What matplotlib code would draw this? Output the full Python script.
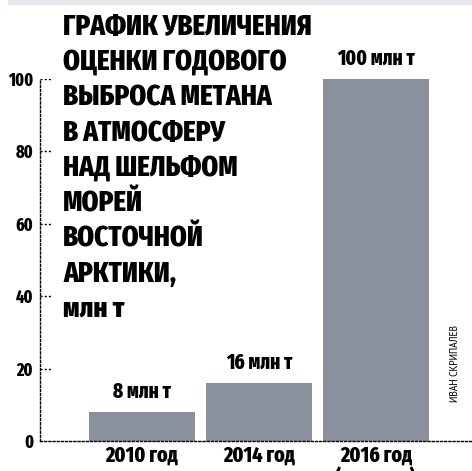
import matplotlib.pyplot as plt
from matplotlib.patches import Rectangle

# data
years = ["2010 год", "2014 год", "2016 год\n(прогноз)"]
emissions = [8, 16, 100]
value_labels = ["8 млн т", "16 млн т", "100 млн т"]
yticks = [0, 20, 40, 60, 80, 100]
title_lines = ["ГРАФИК УВЕЛИЧЕНИЯ", "ОЦЕНКИ ГОДОВОГО", "ВЫБРОСА МЕТАНА",
               "В АТМОСФЕРУ", "НАД ШЕЛЬФОМ", "МОРЕЙ", "ВОСТОЧНОЙ",
               "АРКТИКИ,", "млн т"]

W, H = 472, 471
narrow = ["Fira Sans Extra Condensed", "PT Sans Narrow", "DejaVu Sans"]
bar_color = "#8a909e"
dots = (0, (1.5, 1.5))

fig = plt.figure(figsize=(W / 100, H / 100), dpi=100)
fig.patches.append(Rectangle((8 / W, 1 - 4 / H), 1, 4 / H, transform=fig.transFigure,
                             color="#e4e7ee", zorder=0))

# axes: y-axis at x=40px, zero at y=441px, 100 at y=79px
ax = fig.add_axes([40 / W, 30 / H, 1 - 40 / W, (441 - 79) / H])
step = 117.0  # px per bar slot
ax.set_xlim(-(142 - 40) / step, (W - 142) / step)
ax.set_ylim(0, 100)

x = range(len(emissions))
ax.bar(x, emissions, width=106 / step, color=bar_color, zorder=2)

for xi, v, lab in zip(x, emissions, value_labels):
    ax.annotate(lab, (xi, v), xytext=(0, 7), textcoords="offset points",
                ha="center", va="bottom", fontsize=15, fontweight=800,
                family=narrow, annotation_clip=False)

for s in ["top", "right"]:
    ax.spines[s].set_visible(False)
for s in ["left", "bottom"]:
    ax.spines[s].set_linestyle(dots)
    ax.spines[s].set_linewidth(1)

# short dashed tick marks
x0 = ax.get_xlim()[0]
ax.hlines(yticks[1:], x0, x0 + 12 / step, colors="black", linestyles=dots, linewidth=1)

ax.set_yticks(yticks)
ax.set_yticklabels([str(t) for t in yticks], fontsize=12.5, fontweight=800, family=narrow)
ax.set_xticks(list(x))
ax.set_xticklabels(years, fontsize=15.5, fontweight=800, family=narrow, linespacing=1.0)
ax.tick_params(axis="y", length=0, pad=5)
ax.tick_params(axis="x", length=0, pad=3)

# title block
for i, line in enumerate(title_lines):
    fig.text(63 / W, 1 - (27 + i * 35.3) / H, line, ha="left", va="center",
             fontsize=21, fontweight=800, family=narrow)

fig.text(455 / W, 1 - 364 / H, "ИВАН СКРИПАЛЕВ", rotation=90, ha="center", va="center",
         fontsize=8.5, family=["PT Sans Narrow", "Liberation Sans", "DejaVu Sans"])

fig.savefig("out.png", dpi=100)
